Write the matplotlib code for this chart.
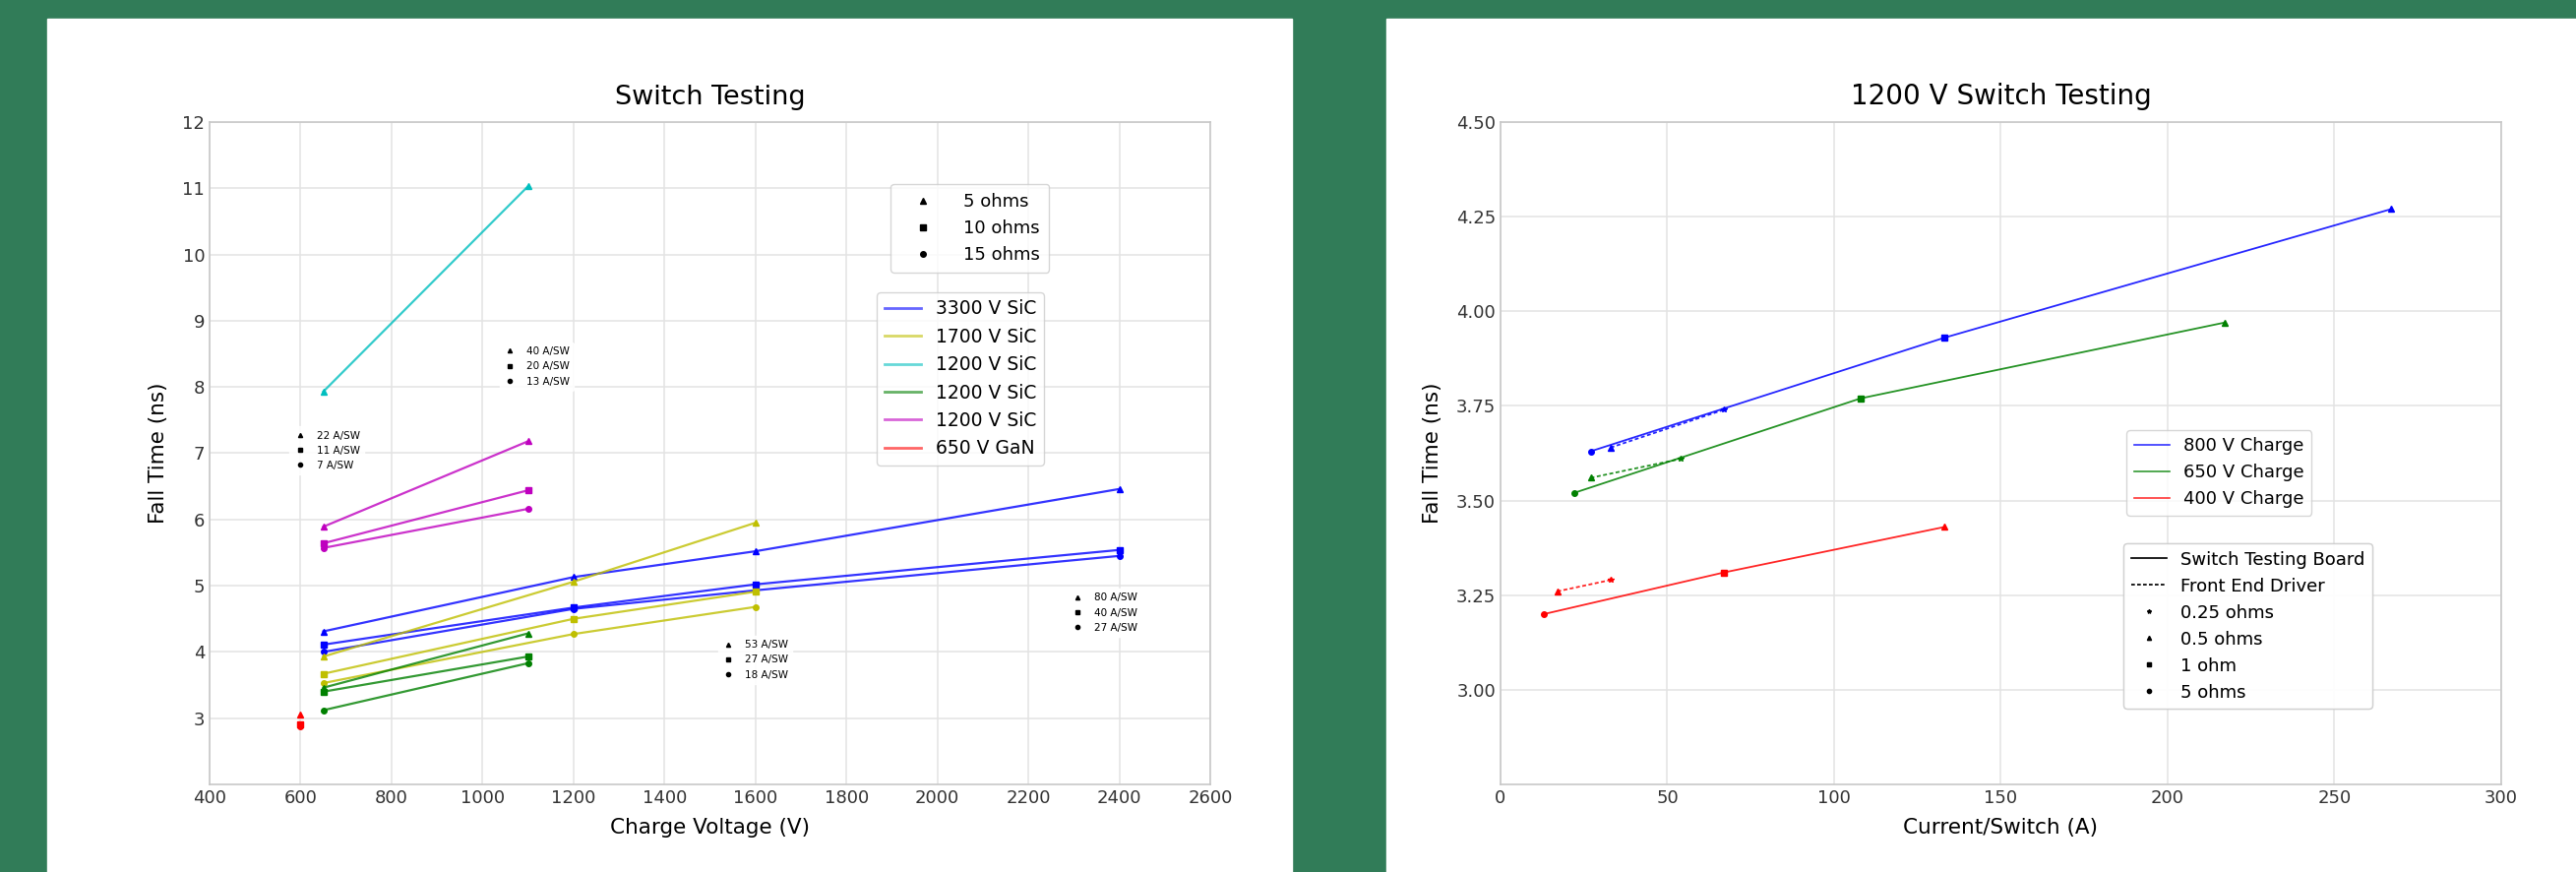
import numpy as np
import matplotlib
matplotlib.use('Agg')
import matplotlib.pyplot as plt
from matplotlib.lines import Line2D
from matplotlib.patches import Rectangle

plt.rcParams.update({
    'font.family': 'DejaVu Sans',
    'axes.edgecolor': '#c8c8c8',
    'axes.linewidth': 1.2,
    'grid.color': '#e3e3e3',
    'grid.linewidth': 1.1,
    'xtick.color': '#333333',
    'ytick.color': '#333333',
    'xtick.major.size': 0,
    'ytick.major.size': 0,
})

# ---------------------------------------------------------------------------
# Left chart data: fall time (ns) vs charge voltage (V), per gate resistor
# ---------------------------------------------------------------------------
volts_3300 = [650, 1200, 1600, 2400]
sic3300_5 = [4.31, 5.13, 5.52, 6.46]
sic3300_10 = [4.11, 4.67, 5.02, 5.54]
sic3300_15 = [4.00, 4.65, 4.93, 5.45]

volts_1700 = [650, 1200, 1600]
sic1700_5 = [3.93, 5.06, 5.95]
sic1700_10 = [3.67, 4.50, 4.91]
sic1700_15 = [3.53, 4.27, 4.68]

volts_1200 = [650, 1100]
sic1200a_5 = [7.93, 11.03]
sic1200b_5 = [3.46, 4.28]
sic1200b_10 = [3.40, 3.93]
sic1200b_15 = [3.12, 3.83]
sic1200c_5 = [5.89, 7.18]
sic1200c_10 = [5.64, 6.44]
sic1200c_15 = [5.57, 6.16]

volts_gan = [600]
gan_5 = [3.05]
gan_10 = [2.91]
gan_15 = [2.88]

device_names = ['3300 V SiC', '1700 V SiC', '1200 V SiC', '1200 V SiC',
                '1200 V SiC', '650 V GaN']
device_colors = ['b', 'y', 'c', 'g', 'm', 'r']
ohm_labels = ['5 ohms', '10 ohms', '15 ohms']
ohm_markers = ['^', 's', 'o']

# current-per-switch notes (label sets, anchor in axes fraction)
asw_notes = [
    (['22 A/SW', '11 A/SW', '7 A/SW'], (0.075, 0.548)),
    (['40 A/SW', '20 A/SW', '13 A/SW'], (0.285, 0.675)),
    (['53 A/SW', '27 A/SW', '18 A/SW'], (0.503, 0.232)),
    (['80 A/SW', '40 A/SW', '27 A/SW'], (0.852, 0.303)),
]

# ---------------------------------------------------------------------------
# Right chart data: 1200 V switch, fall time vs current per switch
# ---------------------------------------------------------------------------
cur_800_stb = [27, 133, 267]
ft_800_stb = [3.63, 3.93, 4.27]
cur_800_fed = [33, 67]
ft_800_fed = [3.64, 3.74]

cur_650_stb = [22, 108, 217]
ft_650_stb = [3.52, 3.77, 3.97]
cur_650_fed = [27, 54]
ft_650_fed = [3.56, 3.61]

cur_400_stb = [13, 67, 133]
ft_400_stb = [3.20, 3.31, 3.43]
cur_400_fed = [17, 33]
ft_400_fed = [3.26, 3.29]

stb_markers = ['o', 's', '^']
fed_markers = ['^', '*']
charge_names = ['800 V Charge', '650 V Charge', '400 V Charge']
charge_colors = ['b', 'g', 'r']
r_labels = ['0.25 ohms', '0.5 ohms', '1 ohm', '5 ohms']
r_markers = ['*', '^', 's', 'o']

DASH = (0, (2.2, 1.4))


def _style(ax):
    ax.grid(True)
    ax.set_axisbelow(True)
    ax.tick_params(labelsize=13)


def _marker_legend(ax, labels, markers, anchor, fs, ms, **kw):
    handles = [Line2D([], [], ls='none', marker=m, color='black', ms=ms)
               for m in markers]
    leg = ax.legend(handles, labels, loc='upper left', bbox_to_anchor=anchor,
                    fontsize=fs, **kw)
    ax.add_artist(leg)
    return leg


fig = plt.figure(figsize=(26.18, 8.86), dpi=100, facecolor='#317c58')
fig.add_artist(Rectangle((48 / 2618, 0), 1265 / 2618, 867 / 886,
                         transform=fig.transFigure, color='white', zorder=0))
fig.add_artist(Rectangle((1409 / 2618, 0), 1209 / 2618, 867 / 886,
                         transform=fig.transFigure, color='white', zorder=0))

# ---------------------------------------------------------------------------
# Left: Switch Testing
# ---------------------------------------------------------------------------
ax1 = fig.add_axes([0.08136, 0.10045, 0.38846, 0.7596])
_style(ax1)

groups = [
    (volts_3300, [sic3300_5, sic3300_10, sic3300_15]),
    (volts_1700, [sic1700_5, sic1700_10, sic1700_15]),
    (volts_1200, [sic1200a_5]),
    (volts_1200, [sic1200b_5, sic1200b_10, sic1200b_15]),
    (volts_1200, [sic1200c_5, sic1200c_10, sic1200c_15]),
    (volts_gan, [gan_5, gan_10, gan_15]),
]
for (x, ys), c in zip(groups, device_colors):
    for y, m in zip(ys, ohm_markers):
        ax1.plot(x, y, color=c, lw=1.6, alpha=0.8)
        ax1.plot(x, y, color=c, ls='none', marker=m, ms=4)

ax1.set_xlim(400, 2600)
ax1.set_ylim(2, 12)
ax1.set_xticks(np.arange(400, 2601, 200))
ax1.set_yticks(np.arange(3, 13, 1))
ax1.set_title('Switch Testing', fontsize=19.5, pad=13)
ax1.set_xlabel('Charge Voltage (V)', fontsize=15.5, labelpad=8)
ax1.set_ylabel('Fall Time (ns)', fontsize=15.5, labelpad=10)

_marker_legend(ax1, ohm_labels, ohm_markers, (0.672, 0.920), 13, 4,
               handlelength=2.6, handletextpad=1.0, borderpad=0.5)

dev_handles = [Line2D([], [], color=c, lw=2, alpha=0.6) for c in device_colors]
leg = ax1.legend(dev_handles, device_names, loc='upper right',
                 bbox_to_anchor=(0.843, 0.757), fontsize=13.5)
ax1.add_artist(leg)

for labels, anchor in asw_notes:
    _marker_legend(ax1, labels, ohm_markers, anchor, 7.5, 3,
                   edgecolor='white', framealpha=0.9, handlelength=1.2,
                   handletextpad=1.0, borderpad=0.4, labelspacing=0.5)

# ---------------------------------------------------------------------------
# Right: 1200 V Switch Testing
# ---------------------------------------------------------------------------
ax2 = fig.add_axes([0.5825, 0.10045, 0.38846, 0.7596])
_style(ax2)

right_sets = [
    (cur_800_stb, ft_800_stb, cur_800_fed, ft_800_fed),
    (cur_650_stb, ft_650_stb, cur_650_fed, ft_650_fed),
    (cur_400_stb, ft_400_stb, cur_400_fed, ft_400_fed),
]
for (xs, ys, xf, yf), c in zip(right_sets, charge_colors):
    ax2.plot(xs, ys, color=c, lw=1.3, alpha=0.85)
    ax2.plot(xf, yf, color=c, lw=1.3, ls=DASH, alpha=0.85)
    for xi, yi, m in zip(xs, ys, stb_markers):
        ax2.plot(xi, yi, color=c, marker=m, ms=4)
    for xi, yi, m in zip(xf, yf, fed_markers):
        ax2.plot(xi, yi, color=c, marker=m, ms=4)

ax2.set_xlim(0, 300)
ax2.set_ylim(2.75, 4.5)
ax2.set_xticks(np.arange(0, 301, 50))
ax2.set_yticks(np.arange(3.0, 4.51, 0.25))
ax2.set_yticklabels([f'{v:.2f}' for v in np.arange(3.0, 4.51, 0.25)])
ax2.set_title('1200 V Switch Testing', fontsize=20, pad=13)
ax2.set_xlabel('Current/Switch (A)', fontsize=15.5, labelpad=8)
ax2.set_ylabel('Fall Time (ns)', fontsize=15.5, labelpad=10)

ch_handles = [Line2D([], [], color=c, lw=1.2, alpha=0.8) for c in charge_colors]
leg = ax2.legend(ch_handles, charge_names, loc='upper left',
                 bbox_to_anchor=(0.617, 0.548), fontsize=13)
ax2.add_artist(leg)

kind_handles = [Line2D([], [], color='black', lw=1.2),
                Line2D([], [], color='black', lw=1.2, ls=DASH)]
kind_handles += [Line2D([], [], ls='none', marker=m, color='black', ms=3)
                 for m in r_markers]
leg = ax2.legend(kind_handles, ['Switch Testing Board', 'Front End Driver'] + r_labels,
                 loc='upper left', bbox_to_anchor=(0.614, 0.377), fontsize=13)
ax2.add_artist(leg)

fig.savefig('out.png', dpi=100, facecolor=fig.get_facecolor())
